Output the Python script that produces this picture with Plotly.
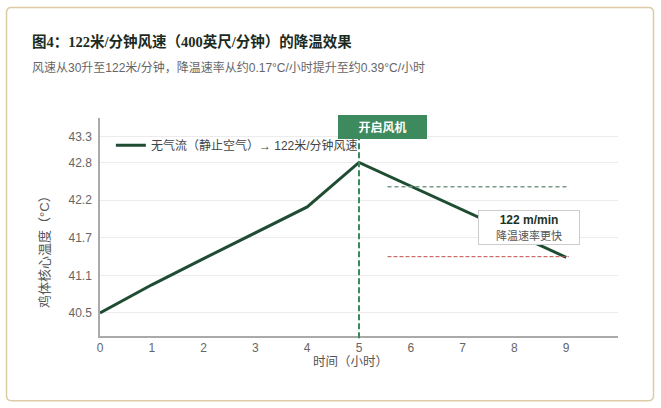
import plotly.graph_objects as go

# ---- data ----
hours = [0, 1, 2, 3, 4, 5, 6, 7, 8, 9]
core_temp = [40.5, 40.93, 41.33, 41.73, 42.12, 42.8, 42.44, 42.08, 41.71, 41.35]
series_name = "无气流（静止空气）→ 122米/分钟风速"
y_tick_vals = [40.5, 41.075, 41.65, 42.225, 42.8, 43.2]
y_tick_text = ["40.5", "41.1", "41.7", "42.2", "42.8", "43.3"]
x_tick_vals = [0, 1, 2, 3, 4, 5, 6, 7, 8, 9]
fan_on_hour = 5
slow_ref_temp = 42.43
fast_ref_temp = 41.36
ref_x_start, ref_x_end = 5.55, 9.05

title = "图4：122米/分钟风速（400英尺/分钟）的降温效果"
subtitle = "风速从30升至122米/分钟，降温速率从约0.17°C/小时提升至约0.39°C/小时"
x_title = "时间（小时）"
y_title = "鸡体核心温度（°C）"

W, H = 661, 408
L, R, T, B = 100, 43, 117.5, 71.5
pw, ph = W - L - R, H - T - B

def px_x(p):
    return (p - L) / pw

def px_y(p):
    return (H - B - p) / ph

SANS = "Liberation Sans, Arial, Noto Sans CJK SC, sans-serif"
GREEN = "#1f4d34"

fig = go.Figure()
fig.add_trace(go.Scatter(
    x=hours, y=core_temp, mode="lines", name=series_name,
    line=dict(color=GREEN, width=3), showlegend=True,
))

# card border (rounded)
x0, x1 = px_x(6.5), px_x(653.5)
y0, y1 = px_y(401.5), px_y(6.5)
rx, ry = 5 / pw, 5 / ph
path = (f"M {x0+rx},{y0} L {x1-rx},{y0} Q {x1},{y0} {x1},{y0+ry} "
        f"L {x1},{y1-ry} Q {x1},{y1} {x1-rx},{y1} L {x0+rx},{y1} "
        f"Q {x0},{y1} {x0},{y1-ry} L {x0},{y0+ry} Q {x0},{y0} {x0+rx},{y0} Z")
fig.add_shape(type="path", path=path, xref="paper", yref="paper",
              line=dict(color="#dccba5", width=1.5), fillcolor="rgba(0,0,0,0)", layer="below")

# fan on vertical line
fig.add_shape(type="line", x0=fan_on_hour, x1=fan_on_hour, xref="x", y0=-0.01, y1=1, yref="paper",
              line=dict(color="#3a8a5e", width=2, dash="6px,3px"))
# reference lines
fig.add_shape(type="line", x0=ref_x_start, x1=ref_x_end, y0=slow_ref_temp, y1=slow_ref_temp,
              line=dict(color="#7a9a87", width=1.5, dash="4px,3px"))
fig.add_shape(type="line", x0=ref_x_start, x1=ref_x_end, y0=fast_ref_temp, y1=fast_ref_temp,
              line=dict(color="#c0504d", width=1, dash="4px,2px"))

# annotations
fig.add_annotation(x=5.45, y=43.34, xref="x", yref="y", text="<b>开启风机</b>",
                   showarrow=False, font=dict(family=SANS, size=12, color="white"),
                   bgcolor="#3d8a5e", bordercolor="#3d8a5e", borderwidth=1,
                   width=85, height=20)
fig.add_annotation(x=8.29, y=41.81, xref="x", yref="y",
                   text="<b><span style='color:#1a3326'>122 m/min</span></b><br><span style='color:#555;font-size:11px'>降温速率更快</span>",
                   showarrow=False, font=dict(family=SANS, size=12, color="#1a3326"),
                   bgcolor="white", bordercolor="#cccccc", borderwidth=1, borderpad=2,
                   width=96, align="center")

# title & subtitle
fig.add_annotation(x=px_x(30), y=px_y(41), xref="paper", yref="paper", xanchor="left", yanchor="middle",
                   text=f"<b>{title}</b>", showarrow=False,
                   font=dict(family="Liberation Serif, Noto Sans CJK SC, serif", size=14.5, color="#1b2b21"))
fig.add_annotation(x=px_x(30), y=px_y(67), xref="paper", yref="paper", xanchor="left", yanchor="middle",
                   text=subtitle, showarrow=False,
                   font=dict(family=SANS, size=12, color="#666666"))

# axis titles
fig.add_annotation(x=px_x(350), y=px_y(363), xref="paper", yref="paper", xanchor="center", yanchor="middle",
                   text=x_title, showarrow=False, font=dict(family=SANS, size=12.5, color="#555"))
fig.add_annotation(x=px_x(45), y=px_y(249), xref="paper", yref="paper", xanchor="center", yanchor="middle",
                   text=y_title, textangle=-90, showarrow=False, font=dict(family=SANS, size=13, color="#555"))

fig.update_layout(
    width=W, height=H,
    margin=dict(l=L, r=R, t=T, b=B, autoexpand=False),
    paper_bgcolor="white", plot_bgcolor="white",
    font=dict(family=SANS, size=12, color="#555"),
    showlegend=True,
    legend=dict(x=0.021, y=0.875, xanchor="left", yanchor="middle", bgcolor="rgba(0,0,0,0)",
                font=dict(family=SANS, size=12, color="#444"), itemwidth=30),
    xaxis=dict(range=[0, 10], tickvals=x_tick_vals, showgrid=False, zeroline=False,
               showline=True, linecolor="#aaaaaa", linewidth=1.5, ticks="",
               tickfont=dict(size=12, color="#666")),
    yaxis=dict(range=[40.147, 43.48], tickvals=y_tick_vals, ticktext=y_tick_text,
               showgrid=True, gridcolor="#ececec", gridwidth=1, zeroline=False,
               showline=True, linecolor="#aaaaaa", linewidth=1.5, ticks="",
               tickfont=dict(size=12, color="#666"), ticklabelstandoff=4),
)

fig.write_html("out.html", post_script="document.body.style.margin='0';",
               config={"displayModeBar": False})
